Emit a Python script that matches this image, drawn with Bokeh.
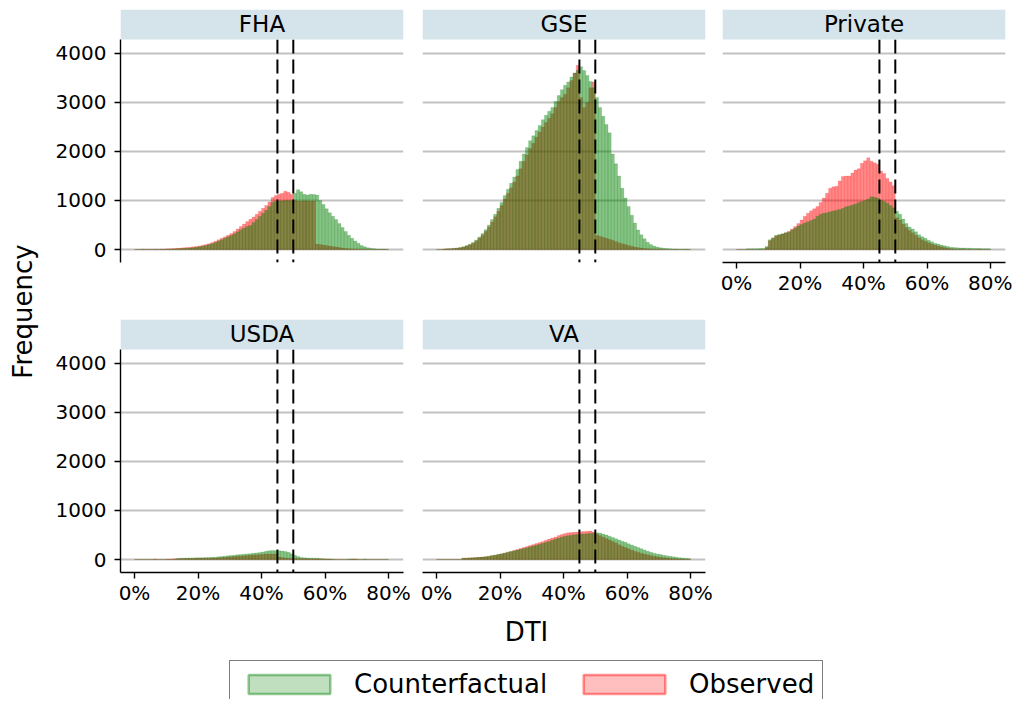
import numpy as np
from bokeh.plotting import figure
from bokeh.models import (Range1d, FixedTicker, Grid, Label, Legend, LegendItem,
                          NumeralTickFormatter, ColumnDataSource)
from bokeh.layouts import row, column
from bokeh.embed import file_html
from bokeh.resources import INLINE

# ---------------- data (1%-wide DTI bins, left edges 0%..79%) ----------------
bin_left = [i / 100 for i in range(80)]
bin_width = 0.01
thresholds = [0.45, 0.50]
y_ticks = [0, 1000, 2000, 3000, 4000]
x_ticks = [0.0, 0.2, 0.4, 0.6, 0.8]
panels = ["FHA", "GSE", "Private", "USDA", "VA"]

fha_observed = [0, 0, 6, 4, 0, 6, 3, 5, 8, 10,
                14, 18, 22, 26, 30, 35, 40, 46, 54, 62,
                72, 85, 100, 120, 145, 170, 200, 230, 260, 290,
                325, 370, 420, 470, 520, 570, 615, 665, 720, 780,
                840, 900, 970, 1060, 1100, 1130, 1150, 1190, 1170, 1130,
                1000, 990, 985, 995, 990, 985, 990, 110, 100, 90,
                80, 70, 60, 50, 40, 30, 22, 15, 10, 8,
                6, 5, 4, 3, 0, 3, 0, 0, 4, 0]
fha_counterfactual = [0, 0, 3, 0, 3, 0, 4, 0, 3, 5,
                      6, 8, 10, 14, 17, 20, 25, 30, 38, 46,
                      55, 68, 82, 100, 120, 145, 170, 200, 230, 260,
                      285, 320, 360, 405, 440, 470, 490, 550, 610, 680,
                      740, 800, 880, 960, 985, 990, 995, 1000, 1000, 995,
                      1150, 1220, 1180, 1130, 1110, 1130, 1120, 1110, 1000, 920,
                      830, 750, 680, 610, 530, 450, 370, 290, 230, 175,
                      130, 80, 55, 35, 25, 18, 12, 10, 8, 6]

gse_observed = [0, 0, 12, 15, 18, 22, 28, 36, 50, 70,
                95, 130, 170, 230, 290, 370, 460, 560, 670, 780,
                900, 1030, 1150, 1260, 1380, 1500, 1650, 1800, 1930, 2060,
                2170, 2290, 2400, 2500, 2590, 2680, 2770, 2900, 3020, 3100,
                3170, 3300, 3450, 3600, 3760, 3100, 2900, 3000, 3300, 3420,
                290, 270, 250, 230, 210, 190, 165, 140, 120, 100,
                80, 65, 50, 40, 30, 22, 15, 10, 8, 5,
                4, 3, 0, 0, 0, 0, 0, 0, 0, 0]
gse_counterfactual = [0, 0, 10, 14, 18, 24, 32, 42, 58, 80,
                      108, 145, 195, 255, 325, 405, 500, 610, 720, 840,
                      960, 1100, 1230, 1350, 1480, 1630, 1800, 1950, 2080, 2220,
                      2320, 2430, 2530, 2650, 2740, 2820, 2900, 3020, 3140, 3260,
                      3350, 3420, 3520, 3600, 3660, 3730, 3650, 3550, 3430, 3300,
                      3100, 2900, 2720, 2550, 2380, 1950, 1750, 1500, 1250, 1050,
                      880, 700, 540, 400, 300, 220, 150, 100, 70, 50,
                      35, 28, 20, 15, 12, 10, 6, 5, 8, 3]

private_observed = [0, 0, 0, 0, 0, 0, 0, 0, 0, 40,
                    180, 230, 275, 295, 315, 340, 370, 420, 470, 530,
                    600, 680, 740, 790, 830, 880, 960, 1050, 1150, 1250,
                    1280, 1290, 1400, 1490, 1500, 1500, 1560, 1620, 1650, 1760,
                    1810, 1870, 1800, 1770, 1740, 1600, 1550, 1450, 1380, 1300,
                    650, 600, 520, 450, 390, 340, 290, 240, 200, 170,
                    140, 110, 90, 70, 55, 40, 25, 15, 10, 5,
                    3, 3, 0, 3, 0, 0, 3, 0, 0, 0]
private_counterfactual = [0, 0, 0, 15, 15, 18, 18, 20, 22, 60,
                          200, 240, 290, 305, 320, 340, 360, 400, 440, 480,
                          510, 540, 565, 590, 620, 680, 720, 740, 750, 770,
                          785, 800, 815, 840, 870, 890, 910, 930, 960, 980,
                          1000, 1030, 1075, 1065, 1050, 1010, 980, 950, 900, 850,
                          780, 720, 620, 530, 460, 420, 360, 300, 260, 230,
                          190, 160, 130, 110, 90, 75, 60, 48, 40, 35,
                          32, 30, 28, 25, 22, 20, 20, 18, 18, 16]

usda_observed = [0, 0, 0, 0, 0, 0, 10, 0, 0, 0,
                 8, 12, 14, 16, 18, 20, 21, 22, 23, 24,
                 25, 26, 27, 28, 30, 33, 38, 43, 48, 53,
                 58, 63, 68, 73, 78, 83, 88, 93, 98, 103,
                 108, 112, 115, 115, 110, 50, 40, 32, 26, 22,
                 20, 20, 18, 18, 16, 15, 14, 13, 12, 10,
                 10, 8, 0, 0, 0, 0, 0, 0, 8, 8,
                 6, 0, 0, 0, 0, 0, 0, 0, 0, 0]
usda_counterfactual = [0, 0, 0, 0, 0, 0, 0, 0, 0, 0,
                       0, 0, 0, 22, 25, 28, 30, 32, 33, 34,
                       36, 38, 40, 42, 44, 48, 55, 60, 68, 75,
                       82, 88, 95, 100, 108, 115, 120, 128, 135, 145,
                       155, 170, 178, 182, 180, 178, 172, 162, 150, 120,
                       85, 60, 42, 35, 30, 28, 26, 25, 20, 15,
                       12, 10, 8, 0, 0, 0, 0, 10, 12, 10,
                       0, 0, 8, 0, 0, 0, 0, 0, 0, 0]

va_observed = [0, 0, 0, 0, 0, 0, 0, 0, 30, 30,
               35, 35, 40, 45, 50, 55, 65, 75, 85, 100,
               115, 130, 150, 165, 185, 205, 225, 245, 265, 285,
               305, 325, 345, 370, 395, 420, 440, 460, 490, 510,
               530, 545, 550, 555, 560, 565, 570, 575, 580, 560,
               520, 490, 460, 430, 400, 370, 340, 300, 270, 245,
               220, 195, 170, 150, 130, 110, 95, 80, 68, 55,
               45, 38, 30, 25, 20, 16, 12, 8, 5, 3]
va_counterfactual = [0, 0, 0, 0, 0, 0, 0, 0, 25, 28,
                     30, 35, 40, 45, 50, 58, 68, 80, 92, 105,
                     120, 135, 150, 165, 180, 195, 210, 225, 240, 258,
                     275, 292, 310, 330, 350, 370, 395, 420, 440, 460,
                     475, 485, 495, 505, 510, 515, 520, 525, 530, 535,
                     545, 540, 520, 500, 475, 450, 425, 400, 375, 350,
                     320, 295, 270, 245, 220, 195, 170, 150, 130, 115,
                     100, 88, 75, 65, 55, 45, 38, 30, 25, 20]

series = {
    "FHA": (fha_observed, fha_counterfactual),
    "GSE": (gse_observed, gse_counterfactual),
    "Private": (private_observed, private_counterfactual),
    "USDA": (usda_observed, usda_counterfactual),
    "VA": (va_observed, va_counterfactual),
}

# ---------------- styling ----------------
FONT = "DejaVu Sans"
GREEN = "#008000"
RED = "#ff0000"
STRIP = "#d5e3ea"
X_LO, X_HI = -0.0441, 0.847
Y_LO, Y_HI = -265, 4285
Y_TOP = 4897          # extra room above the data area for the facet strip
FRAME_W, FRAME_H = 283, 253


def make_panel(name, left, right, top, bottom, show_x, show_y):
    obs, cf = series[name]
    p = figure(width=left + FRAME_W + right, height=top + FRAME_H + bottom,
               x_range=Range1d(X_LO, X_HI), y_range=Range1d(Y_LO, Y_TOP),
               x_axis_location="below" if show_x else None,
               y_axis_location="left" if show_y else None,
               title=None, output_backend="svg", toolbar_location=None,
               min_border_left=left, min_border_right=right,
               min_border_top=top, min_border_bottom=bottom)
    p.outline_line_color = None
    p.background_fill_color = "white"
    p.grid.visible = False
    p.add_layout(Grid(dimension=1, ticker=FixedTicker(ticks=y_ticks),
                      grid_line_color="#c2c2c2", grid_line_width=1.8))

    src = ColumnDataSource(dict(left=bin_left,
                                right=[b + bin_width for b in bin_left],
                                obs=obs, cf=cf))
    p.quad(left="left", right="right", bottom=0, top="obs", source=src,
           fill_color=RED, fill_alpha=0.47, line_color=RED, line_alpha=0.25,
           line_width=0.5)
    p.quad(left="left", right="right", bottom=0, top="cf", source=src,
           fill_color=GREEN, fill_alpha=0.47, line_color=GREEN,
           line_alpha=0.3, line_width=0.5)

    p.segment(x0=thresholds, x1=thresholds, y0=[Y_HI] * len(thresholds),
              y1=[Y_LO] * len(thresholds), line_color="black", line_width=2,
              line_dash="14 6")

    # facet strip
    p.quad(left=[X_LO], right=[X_HI], bottom=[Y_HI], top=[Y_TOP],
           fill_color=STRIP, line_color=None)
    p.add_layout(Label(x=(X_LO + X_HI) / 2, y=(Y_HI + Y_TOP) / 2, text=name,
                       text_font=FONT, text_font_size="23px",
                       text_align="center", text_baseline="middle",
                       text_color="black"))

    axes = []
    if show_y:
        ax = p.yaxis[0]
        ax.ticker = FixedTicker(ticks=y_ticks)
        ax.bounds = (Y_LO, Y_HI)
        ax.major_label_standoff = 8
        axes.append(ax)
    if show_x:
        ax = p.xaxis[0]
        ax.ticker = FixedTicker(ticks=x_ticks)
        ax.formatter = NumeralTickFormatter(format="0%")
        ax.major_label_standoff = 2
        axes.append(ax)
    for ax in axes:
        ax.axis_line_color = "black"
        ax.axis_line_width = 1.4
        ax.major_tick_line_color = "black"
        ax.major_tick_line_width = 1.4
        ax.major_tick_in = 0
        ax.major_tick_out = 6
        ax.minor_tick_line_color = None
        ax.major_label_text_font = FONT
        ax.major_label_text_font_size = "20px"
        ax.major_label_text_color = "black"
    return p


fha = make_panel("FHA", 80, 9, 9, 55, False, True)
gse = make_panel("GSE", 10, 8, 9, 55, False, False)
priv = make_panel("Private", 9, 7, 9, 55, True, False)
usda = make_panel("USDA", 80, 9, 2, 39, True, True)
va = make_panel("VA", 10, 8, 2, 39, True, False)

# left label column
lab = figure(width=40, height=611, x_range=Range1d(0, 1), y_range=Range1d(0, 1),
             x_axis_location=None, y_axis_location=None, title=None,
             output_backend="svg", toolbar_location=None,
             min_border_left=0, min_border_right=0, min_border_top=0, min_border_bottom=0)
lab.outline_line_color = None
lab.grid.visible = False
lab.add_layout(Label(x=22, y=300, x_units="screen", y_units="screen",
                     text="Frequency", angle=90, angle_units="deg",
                     text_align="center", text_baseline="middle",
                     text_font=FONT, text_font_size="26px", text_color="black"))

# bottom: x label + legend
BOT_H = 88
bot = figure(width=1012, height=BOT_H, x_range=Range1d(0, 1), y_range=Range1d(0, 1),
             x_axis_location=None, y_axis_location=None, title=None,
             output_backend="svg", toolbar_location=None,
             min_border_left=0, min_border_right=0, min_border_top=0, min_border_bottom=0)
bot.outline_line_color = None
bot.grid.visible = False
bot.add_layout(Label(x=526, y=BOT_H - 20, x_units="screen", y_units="screen", text="DTI",
                     text_align="center", text_baseline="middle",
                     text_font=FONT, text_font_size="26px", text_color="black"))
nan_box = dict(left=[np.nan], right=[np.nan], top=[np.nan], bottom=[np.nan])
r_cf = bot.quad(left="left", right="right", top="top", bottom="bottom",
                source=ColumnDataSource(dict(nan_box)), fill_color=GREEN, fill_alpha=0.25,
                line_color=GREEN, line_alpha=0.42, line_width=2.5)
r_obs = bot.quad(left="left", right="right", top="top", bottom="bottom",
                 source=ColumnDataSource(dict(nan_box)), fill_color=RED, fill_alpha=0.25,
                 line_color=RED, line_alpha=0.42, line_width=2.5)
legend = Legend(items=[LegendItem(label="Counterfactual", renderers=[r_cf]),
                       LegendItem(label="Observed", renderers=[r_obs])],
                orientation="horizontal", location=(229, BOT_H - 45 - 52), margin=0,
                padding=8, spacing=26, label_standoff=14,
                glyph_width=102, glyph_height=24,
                label_text_font=FONT, label_text_font_size="26px",
                label_text_color="black",
                border_line_color="black", border_line_width=1.2,
                background_fill_color="white", background_fill_alpha=1.0)
bot.add_layout(legend)

layout = column(row(lab, column(row(fha, gse, priv), row(usda, va))), bot)

open("out.html", "w").write(file_html(layout, INLINE))
